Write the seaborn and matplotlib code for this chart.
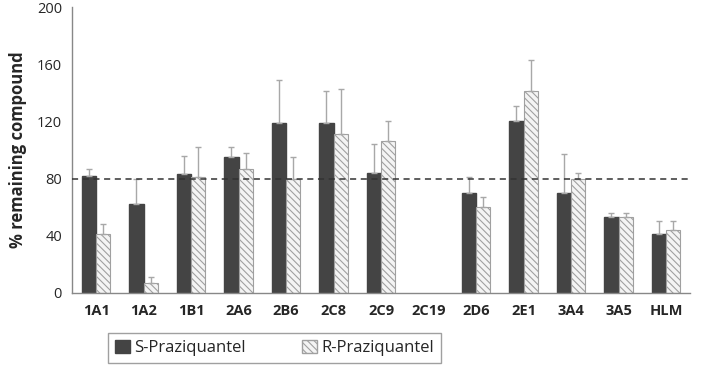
import numpy as np
import pandas as pd
import seaborn as sns
import matplotlib.pyplot as plt
from matplotlib.patches import Patch

# data
enzymes = ['1A1', '1A2', '1B1', '2A6', '2B6', '2C8', '2C9', '2C19', '2D6', '2E1', '3A4', '3A5', 'HLM']
s_vals = [82, 62, 83, 95, 119, 119, 84, np.nan, 70, 120, 70, 53, 41]
s_err = [5, 18, 13, 7, 30, 22, 20, np.nan, 11, 11, 27, 3, 9]
r_vals = [41, 7, 81, 87, 80, 111, 106, np.nan, 60, 141, 80, 53, 44]
r_err = [7, 4, 21, 11, 15, 32, 14, np.nan, 7, 22, 4, 3, 6]
threshold = 80

df = pd.DataFrame({
    'enzyme': enzymes * 2,
    'value': s_vals + r_vals,
    'form': ['S-Praziquantel'] * len(enzymes) + ['R-Praziquantel'] * len(enzymes),
})

sns.set_style('white')
plt.rcParams['font.family'] = ['Open Sans', 'DejaVu Sans']
plt.rcParams['hatch.color'] = '#9a9a9a'
plt.rcParams['hatch.linewidth'] = 0.8

fig = plt.figure(figsize=(7.09, 3.69), dpi=100)
ax = fig.add_axes([0.102, 0.206, 0.871, 0.775])

sns.barplot(data=df, x='enzyme', y='value', hue='form', order=enzymes,
            hue_order=['S-Praziquantel', 'R-Praziquantel'],
            palette=['#444444', '#f4f4f4'], width=0.6, errorbar=None,
            saturation=1, legend=False, ax=ax)

errs = [s_err, r_err]
bar_conts = list(ax.containers)
for k, cont in enumerate(bar_conts):
    for bar in cont:
        h = bar.get_height()
        if np.isnan(h):
            continue
        cx = bar.get_x() + bar.get_width() / 2
        i = int(round(cx))
        if k == 1:
            bar.set_hatch('\\\\\\\\\\')
            bar.set_edgecolor('#a0a0a0')
            bar.set_linewidth(0.8)
        else:
            bar.set_edgecolor('#444444')
        ax.errorbar(cx, h, yerr=[[0], [errs[k][i]]], color='#a8a8a8',
                    capsize=2.5, elinewidth=1, capthick=1)

ax.axhline(threshold, color='#333333', linestyle=(0, (4, 3)), linewidth=1.1, zorder=5)

ax.set_xlim(-0.5, len(enzymes) - 0.5)
ax.set_ylim(0, 200)
ax.set_yticks(range(0, 201, 40))
ax.set_xticks(np.arange(-0.5, len(enzymes), 1), minor=True)
ax.tick_params(axis='x', which='major', length=0, pad=8)
ax.tick_params(axis='x', which='minor', length=4, color='#888888', direction='inout')
ax.tick_params(axis='y', length=4, color='#888888', direction='out', labelsize=10.5)
for lab in ax.get_xticklabels():
    lab.set_fontweight('bold')
    lab.set_fontsize(10.5)
ax.set_xlabel('')
ax.set_ylabel('% remaining compound', fontsize=12, fontweight='bold', labelpad=7)

sns.despine(ax=ax)
for sp in ['left', 'bottom']:
    ax.spines[sp].set_color('#888888')
    ax.spines[sp].set_linewidth(1)

handles = [Patch(facecolor='#444444', edgecolor='#444444', label='S-Praziquantel'),
           Patch(facecolor='#f4f4f4', edgecolor='#a0a0a0', hatch='\\\\\\\\\\', label='R-Praziquantel')]
leg = fig.legend(handles=handles, ncol=2, loc='center', bbox_to_anchor=(0.387, 0.057),
                 frameon=True, fancybox=False, fontsize=12, handlelength=0.9,
                 handleheight=0.9, handletextpad=0.25, columnspacing=3.4,
                 borderpad=0.4, borderaxespad=0)
leg.get_frame().set_edgecolor('#888888')
leg.get_frame().set_linewidth(1)

fig.savefig('out.png', dpi=100)
